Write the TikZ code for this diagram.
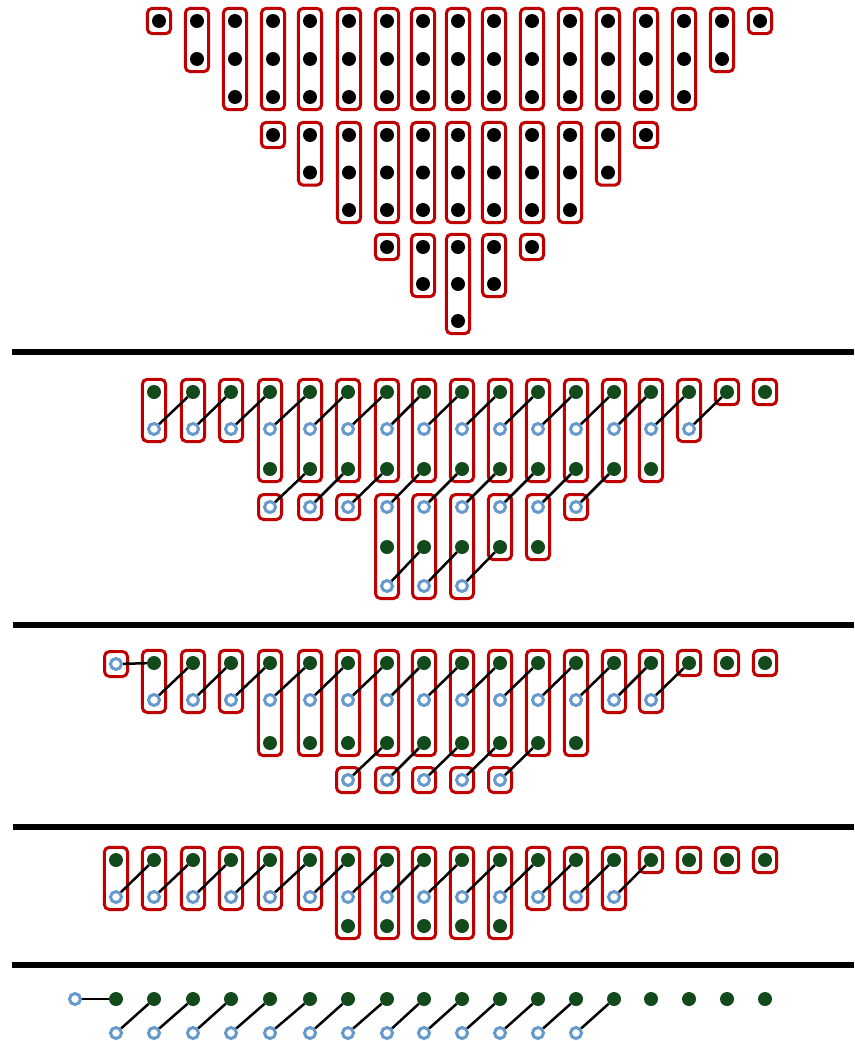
\documentclass[tikz,border=0pt]{standalone}
\usepackage{tikz}
\usetikzlibrary{positioning,fit}
\definecolor{boxred}{RGB}{192,0,0}
\definecolor{leafgreen}{RGB}{18,74,28}
\definecolor{ringblue}{RGB}{102,153,204}
\tikzset{
  bdot/.style={circle, fill=black, inner sep=0pt, minimum size=14pt},
  gdot/.style={circle, fill=leafgreen, inner sep=0pt, minimum size=14pt},
  ring/.style={circle, draw=ringblue, fill=white, line width=3pt, inner sep=0pt, minimum size=11pt},
  grp/.style={draw=boxred, line width=3pt, rounded corners=5pt, inner xsep=4.5pt, inner ysep=5.5pt},
  link/.style={black, line width=2.5pt},
  divider/.style={black, line width=5.5pt}
}

\begin{document}
\begin{tikzpicture}[x=1pt, y=-1pt]
    \useasboundingbox (0,0) rectangle (854,1041);
    % Column positions
    \foreach \x [count=\i] in {159,197,235,273,310,349,387,423,458,494,532,570,608,646,684,722,760}
      \coordinate (t\i) at (\x,0);
    \foreach \x [count=\i] in {116,154,193,231,270,310,348,387,424,462,500,538,576,614,651,689,727,765}
      \coordinate (c\i) at (\x,0);

    % Top block: three rows of black groups
    \foreach \i in {1,...,17} {
      \pgfmathtruncatemacro\n{min(3,\i,18-\i)}
      \foreach \k in {1,...,\n} {
        \pgfmathsetmacro\y{21+38*(\k-1)}
        \node[bdot] (a\i-\k) at (t\i |- 0,\y) {};
      }
      \node[grp, fit=(a\i-1)(a\i-\n)] {};
    }
    \foreach \i in {4,...,14} {
      \pgfmathtruncatemacro\n{min(3,\i-3,15-\i)}
      \foreach \k in {1,...,\n} {
        \pgfmathsetmacro\y{135+37.5*(\k-1)}
        \node[bdot] (b\i-\k) at (t\i |- 0,\y) {};
      }
      \node[grp, fit=(b\i-1)(b\i-\n)] {};
    }
    \foreach \i in {7,...,11} {
      \pgfmathtruncatemacro\n{min(3,\i-6,12-\i)}
      \foreach \k in {1,...,\n} {
        \pgfmathsetmacro\y{247+37*(\k-1)}
        \node[bdot] (e\i-\k) at (t\i |- 0,\y) {};
      }
      \node[grp, fit=(e\i-1)(e\i-\n)] {};
    }

    % Dividers
    \draw[divider] (12,352) -- (854,352);
    \draw[divider] (13,625) -- (854,625);
    \draw[divider] (13,827) -- (854,827);
    \draw[divider] (12,965) -- (854,965);

    % Second block
    \foreach \i in {2,...,18} \node[gdot] (u\i-1) at (c\i |- 0,392) {};
    \foreach \i in {2,...,16} \node[ring] (u\i-2) at (c\i |- 0,429) {};
    \foreach \i in {5,...,15} \node[gdot] (u\i-3) at (c\i |- 0,469) {};
    \foreach \i in {5,...,13} \node[ring] (u\i-4) at (c\i |- 0,507) {};
    \foreach \i in {8,...,12} \node[gdot] (u\i-5) at (c\i |- 0,547) {};
    \foreach \i in {8,...,10} \node[ring] (u\i-6) at (c\i |- 0,586) {};
    \foreach \i/\a/\b in {2/1/2,3/1/2,4/1/2,16/1/2,17/1/1,18/1/1,
                          5/4/4,6/4/4,7/4/4,8/4/6,9/4/6,10/4/6,11/4/5,12/4/5,13/4/4}
      \node[grp, fit=(u\i-\a)(u\i-\b)] {};
    \foreach \i in {5,...,15} \node[grp, fit=(u\i-1)(u\i-3)] {};
    \foreach \i [count=\j from 3] in {2,...,16} \draw[link] (u\i-2) -- (u\j-1);
    \foreach \i [count=\j from 6] in {5,...,13} \draw[link] (u\i-4) -- (u\j-3);
    \foreach \i [count=\j from 9] in {8,...,10} \draw[link] (u\i-6) -- (u\j-5);

    % Third block
    \node[ring] (v1-1) at (c1 |- 0,664) {};
    \foreach \i in {2,...,18} \node[gdot] (v\i-1) at (c\i |- 0,663) {};
    \foreach \i in {2,...,15} \node[ring] (v\i-2) at (c\i |- 0,700) {};
    \foreach \i in {5,...,13} \node[gdot] (v\i-3) at (c\i |- 0,743) {};
    \foreach \i in {7,...,11} \node[ring] (v\i-4) at (c\i |- 0,780) {};
    \foreach \i/\a/\b in {1/1/1,2/1/2,3/1/2,4/1/2,14/1/2,15/1/2,16/1/1,17/1/1,18/1/1,
                          7/4/4,8/4/4,9/4/4,10/4/4,11/4/4}
      \node[grp, fit=(v\i-\a)(v\i-\b)] {};
    \foreach \i in {5,...,13} \node[grp, fit=(v\i-1)(v\i-3)] {};
    \draw[link] (v1-1) -- (v2-1);
    \foreach \i [count=\j from 3] in {2,...,15} \draw[link] (v\i-2) -- (v\j-1);
    \foreach \i [count=\j from 8] in {7,...,11} \draw[link] (v\i-4) -- (v\j-3);

    % Fourth block
    \foreach \i in {1,...,18} \node[gdot] (w\i-1) at (c\i |- 0,860) {};
    \foreach \i in {1,...,14} \node[ring] (w\i-2) at (c\i |- 0,897) {};
    \foreach \i in {7,...,11} \node[gdot] (w\i-3) at (c\i |- 0,926) {};
    \foreach \i in {1,...,6,12,13,14} \node[grp, fit=(w\i-1)(w\i-2)] {};
    \foreach \i in {7,...,11} \node[grp, fit=(w\i-1)(w\i-3)] {};
    \foreach \i in {15,...,18} \node[grp, fit=(w\i-1)] {};
    \foreach \i [count=\j from 2] in {1,...,14} \draw[link] (w\i-2) -- (w\j-1);

    % Last row, no groups
    \node[ring] (z0) at (75,999) {};
    \foreach \i in {1,...,18} \node[gdot] (z\i-1) at (c\i |- 0,999) {};
    \foreach \i in {1,...,13} \node[ring] (z\i-2) at (c\i |- 0,1033) {};
    \draw[link] (z0) -- (z1-1);
    \foreach \i [count=\j from 2] in {1,...,13} \draw[link] (z\i-2) -- (z\j-1);
\end{tikzpicture}
\end{document}
